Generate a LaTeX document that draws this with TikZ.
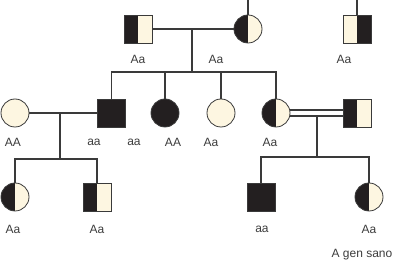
\documentclass[tikz,border=0pt]{standalone}
\usepackage{fontspec}
\setmainfont{Liberation Sans}
\definecolor{cream}{HTML}{FDF6E1}
\definecolor{ink}{HTML}{231F20}
\definecolor{linegray}{HTML}{3A3A3A}
\definecolor{textgray}{HTML}{3C3C3C}
\tikzset{
  ind/.style={draw=linegray, line width=0.8pt, minimum size=28pt, inner sep=0pt, outer sep=0pt, fill=cream},
  male/.style={ind, rectangle},
  female/.style={ind, circle},
  affected/.style={fill=ink},
  leftcarrier/.style={path picture={\fill[ink] (path picture bounding box.south west) rectangle (path picture bounding box.north);}},
  rightcarrier/.style={path picture={\fill[ink] (path picture bounding box.south) rectangle (path picture bounding box.north east);}},
  link/.style={line width=1.6pt, draw=linegray},
  geno/.style={font=\fontsize{12}{14}\selectfont, text=textgray, inner sep=0pt}
}
\begin{document}
\begin{tikzpicture}[x=1pt,y=-1pt]
  \useasboundingbox (0,0) rectangle (400,267);
  % generation I
  \node[male,leftcarrier] (m1) at (138,29) {};
  \node[female,leftcarrier] (f1) at (248,29) {};
  \node[male,rightcarrier] (m2) at (357,29) {};
  \coordinate (t1) at (248,-2);
  \coordinate (t2) at (357,-2);
  \draw[link] (f1.north) -- (t1);
  \draw[link] (m2.north) -- (t2);
  \draw[link] (m1.east) -- (f1.west);
  \coordinate (c1) at (192,29);
  \coordinate (d1) at (192,72);
  \draw[link] (c1) -- (d1);
  % generation II
  \node[female] (fA) at (15,113) {};
  \node[male,affected] (mB) at (111.5,113) {};
  \node[female,affected] (fC) at (165,113) {};
  \node[female] (fD) at (221,113) {};
  \node[female,leftcarrier] (fE) at (276,113) {};
  \node[male,leftcarrier] (mF) at (357,113) {};
  \draw[link] (mB.north) -- (mB.north |- d1) -- (fE.north |- d1) -- (fE.north);
  \foreach \n in {fC,fD}
    \draw[link] (\n.north) -- (\n.north |- d1);
  \draw[link] (fA.east) -- (mB.west);
  \coordinate (c2) at (60,113);
  \coordinate (d2) at (60,159);
  \draw[link] (c2) -- (d2);
  \draw[link] ([yshift=3pt]fE.east) -- ([yshift=3pt]mF.west);
  \draw[link] ([yshift=-3pt]fE.east) -- ([yshift=-3pt]mF.west);
  \coordinate (c3) at (317,116);
  \coordinate (d3) at (317,157);
  \draw[link] (c3) -- (d3);
  % generation III
  \node[female,leftcarrier] (g1) at (15,197) {};
  \node[male,leftcarrier] (g2) at (97,197) {};
  \node[male,affected] (g3) at (261,197) {};
  \node[female,leftcarrier] (g4) at (369,197) {};
  \draw[link] (g1.north) -- (g1.north |- d2) -- (g2.north |- d2) -- (g2.north);
  \draw[link] (g3.north) -- (g3.north |- d3) -- (g4.north |- d3) -- (g4.north);
  % genotypes
  \foreach \x/\y/\t [count=\i] in {138/59/Aa,216/59/Aa,344/59/Aa,
      13/142/AA,94/142/aa,134/142/aa,173/142/AA,211/142/Aa,270/142/Aa,
      13/229/Aa,97/229/Aa,262/229/aa,369/229/Aa}
    \node[geno] (lab\i) at (\x,\y) {\t};
  \node[geno] (note) at (362,255) {A gen sano};
\end{tikzpicture}
\end{document}
